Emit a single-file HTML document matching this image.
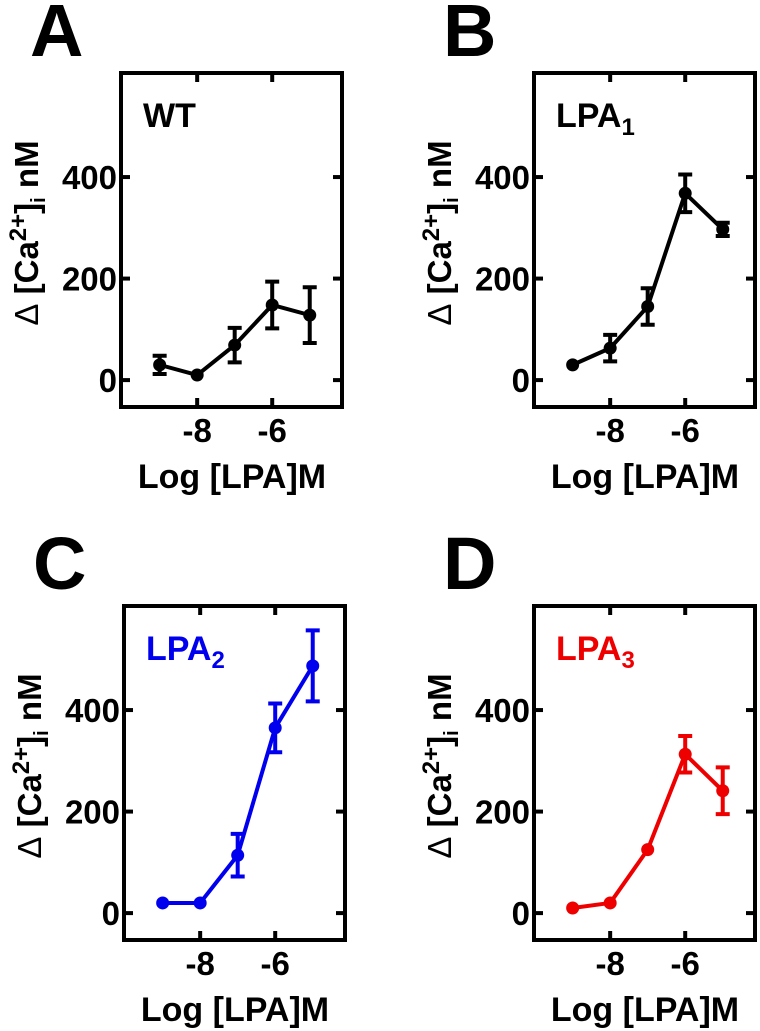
<!DOCTYPE html>
<html><head><meta charset="utf-8"><style>
body{margin:0;background:#fff;}
svg{display:block;font-family:"Liberation Sans",Arial,sans-serif;font-weight:bold;}
</style></head><body>
<svg id="fig" width="760" height="1031" viewBox="0 0 760 1031"></svg>
<script>
const categories = [-9, -8, -7, -6, -5];
const wtValues = [30, 10, 69, 148, 128];
const wtErrors = [18, 0, 34, 46, 55];
const lpa1Values = [30, 63, 145, 368, 297];
const lpa1Errors = [0, 26, 36, 37, 13];
const lpa2Values = [20, 20, 114, 365, 487];
const lpa2Errors = [0, 0, 42, 48, 70];
const lpa3Values = [10, 20, 125, 313, 241];
const lpa3Errors = [0, 0, 0, 36, 46];
const yTicks = [0, 200, 400];
const xTicks = [-8, -6];

const NS = "http://www.w3.org/2000/svg";
const svg = document.getElementById('fig');
function mk(tag, attrs, parent) {
  const e = document.createElementNS(NS, tag);
  for (const k in attrs) e.setAttribute(k, attrs[k]);
  (parent || svg).appendChild(e);
  return e;
}
const W = 221, H = 334, YMIN = -53, YMAX = 605, XMIN = -10.03, XMAX = -4.14;

function panel(key, letter, L, T, vals, errs, color, label, sub) {
  const g = mk('g', {});
  
  
  const sx = v => L + (v - XMIN) / (XMAX - XMIN) * W;
  const sy = v => T + H - (v - YMIN) / (YMAX - YMIN) * H;
  const lt = mk('text', {x: L - 91, y: T - 17, 'font-size': 74, fill: '#000'}, g);
  lt.textContent = letter;
  
  
  const box = mk('rect', {x: L, y: T, width: W, height: H, fill: 'none', stroke: '#000', 'stroke-width': 4}, g);
  
  
  yTicks.forEach(t => {
    const y = sy(t);
    mk('line', {x1: L, x2: L + 9, y1: y, y2: y, stroke: '#000', 'stroke-width': 4}, g);
    mk('line', {x1: L + W - 9, x2: L + W, y1: y, y2: y, stroke: '#000', 'stroke-width': 4}, g);
    const tx = mk('text', {x: L - 4, y: y + 12, 'font-size': 33, 'text-anchor': 'end'}, g);
    tx.textContent = t;
    
    
  });
  xTicks.forEach(t => {
    const x = sx(t);
    mk('line', {x1: x, x2: x, y1: T + H, y2: T + H - 9, stroke: '#000', 'stroke-width': 4}, g);
    mk('line', {x1: x, x2: x, y1: T, y2: T + 9, stroke: '#000', 'stroke-width': 4}, g);
    const tx = mk('text', {x: x, y: T + H + 35, 'font-size': 33, 'text-anchor': 'middle'}, g);
    tx.textContent = t;
    
    
  });
  const xt = mk('text', {x: L + 111, y: T + H + 81, 'font-size': 34, 'text-anchor': 'middle'}, g);
  xt.textContent = 'Log [LPA]M';
  
  
  const cy = T + 160, cx = L - 83;
  const yt = mk('text', {x: 0, y: 0, 'font-size': 33, 'text-anchor': 'middle', transform: 'translate(' + cx + ',' + cy + ') rotate(-90)'}, g);
  yt.innerHTML = '<tspan font-weight="normal">Δ</tspan> [Ca<tspan dy="-12" font-size="24">2+</tspan><tspan dy="12">]</tspan><tspan dy="7" font-size="20">i</tspan><tspan dy="-7"> nM</tspan>';
  
  
  const lb = mk('text', {x: L + 22, y: T + 54, 'font-size': 34, fill: color}, g);
  lb.innerHTML = label + (sub ? '<tspan dy="8" font-size="24">' + sub + '</tspan>' : '');
  
  
  const pts = categories.map((c, i) => sx(c) + ',' + sy(vals[i])).join(' ');
  const line = mk('polyline', {points: pts, fill: 'none', stroke: color, 'stroke-width': 4, 'stroke-linejoin': 'round'}, g);
  
  
  categories.forEach((c, i) => {
    const x = sx(c), y = sy(vals[i]), e = errs[i];
    if (e > 0) {
      const eb = mk('path', {d: 'M' + x + ',' + sy(vals[i] + e) + 'V' + sy(vals[i] - e) + 'M' + (x - 7) + ',' + sy(vals[i] + e) + 'h14M' + (x - 7) + ',' + sy(vals[i] - e) + 'h14', stroke: color, 'stroke-width': 4, fill: 'none'}, g);
      
      
    }
    const pt = mk('circle', {cx: x, cy: y, r: 6.5, fill: color}, g);
    
    
  });
}
panel('a', 'A', 121, 73, wtValues, wtErrors, '#000', 'WT', '');
panel('b', 'B', 534, 73, lpa1Values, lpa1Errors, '#000', 'LPA', '1');
panel('c', 'C', 124, 606, lpa2Values, lpa2Errors, '#0000ee', 'LPA', '2');
panel('d', 'D', 534, 606, lpa3Values, lpa3Errors, '#ee0000', 'LPA', '3');
</script>
</body></html>
